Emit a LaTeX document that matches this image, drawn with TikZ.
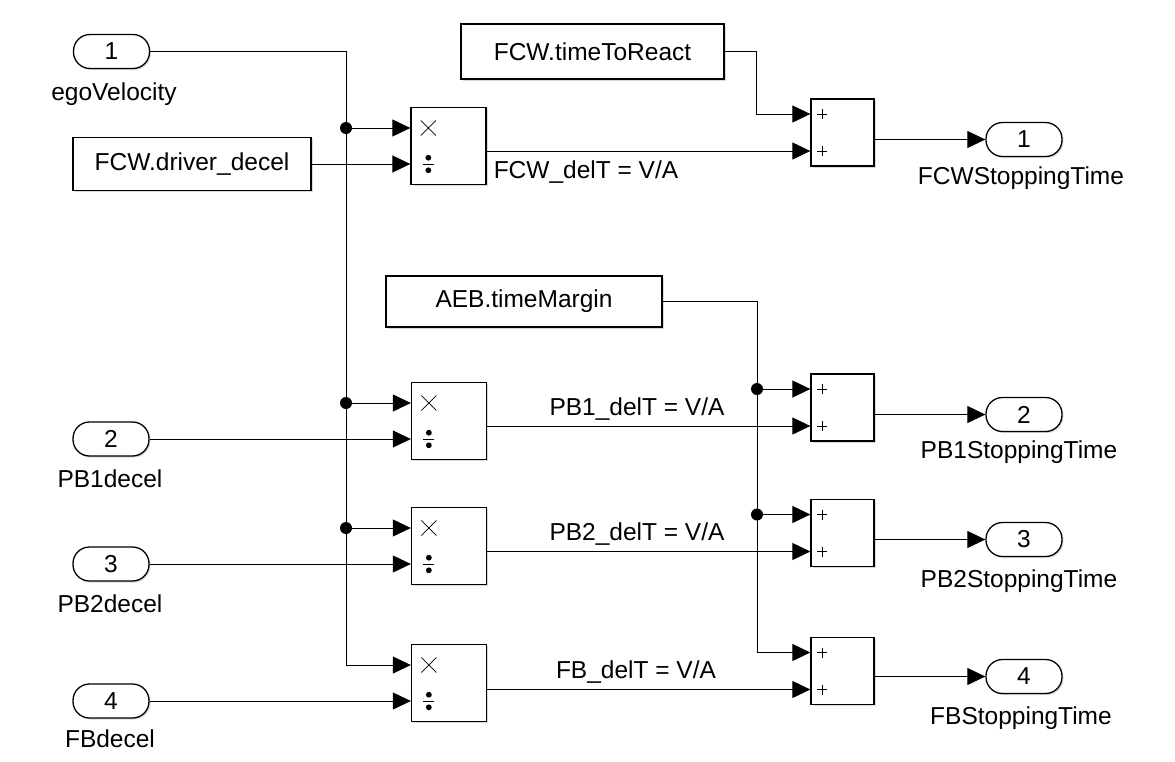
\documentclass[tikz,border=0pt]{standalone}
\usepackage{fontspec}
\setmainfont{Liberation Sans}
\usetikzlibrary{arrows.meta,shadows}

% small signs inside the blocks
\newcommand{\mulmark}[1]{\draw[symline] ([shift={(10.5,-7.5)}]#1) -- ([shift={(25.5,7.5)}]#1)
  ([shift={(10.5,7.5)}]#1) -- ([shift={(25.5,-7.5)}]#1);}
\newcommand{\divmark}[1]{\draw[symline] ([shift={(12.5,0)}]#1) -- ([shift={(23.5,0)}]#1);
  \fill ([shift={(18,-6.3)}]#1) circle (2.9pt);
  \fill ([shift={(18,6.3)}]#1) circle (2.9pt);}
\newcommand{\plusmark}[1]{\draw[symline] ([shift={(7,0)}]#1) -- ([shift={(17,0)}]#1)
  ([shift={(12,-5)}]#1) -- ([shift={(12,5)}]#1);}

\begin{document}
\begin{tikzpicture}[x=1pt,y=-1pt,
  every node/.style={font=\fontsize{24.5}{28}\selectfont},
  blk/.style={draw,line width=1.3pt,fill=white,
    drop shadow={shadow xshift=1.5pt,shadow yshift=-1.5pt,opacity=0.3}},
  port/.style={blk,rounded corners=16.5pt,minimum width=76pt,minimum height=34pt,inner sep=0pt},
  const/.style={blk,minimum height=53pt},
  prodbox/.style={blk,minimum width=75pt,minimum height=77pt},
  sumbox/.style={blk,minimum width=63pt,minimum height=67pt},
  lbl/.style={anchor=base},
  sig/.style={line width=1pt,-{Triangle[length=18pt,width=17pt]}},
  symline/.style={line width=0.8pt}]
\useasboundingbox (0,0) rectangle (1175,761);

% inports
\node[port] (in1) at (111.5,51.5) {1};
\node[port] (in2) at (111,439) {2};
\node[port] (in3) at (111,564) {3};
\node[port] (in4) at (111,701) {4};
\node[lbl] (inlbl1) at (114,100) {egoVelocity};
\node[lbl] (inlbl2) at (110,487) {PB1decel};
\node[lbl] (inlbl3) at (110,612) {PB2decel};
\node[lbl] (inlbl4) at (110,747) {FBdecel};

% constants
\node[const,minimum width=238pt] (drvDecel) at (192,164) {FCW.driver\_decel};
\node[const,minimum width=263pt,minimum height=55pt] (reactTime) at (592.5,51.5) {FCW.timeToReact};
\node[const,minimum width=276pt,minimum height=51pt] (timeMargin) at (524,301.5) {AEB.timeMargin};

% divide blocks
\node[prodbox] (divFCW) at (448.5,146) {};
\node[prodbox] (divPB1) at (449,421) {};
\node[prodbox] (divPB2) at (449,546) {};
\node[prodbox] (divFB) at (449,683) {};

% sum blocks
\node[sumbox] (sumFCW) at (842.5,132.5) {};
\node[sumbox] (sumPB1) at (842.5,407.5) {};
\node[sumbox] (sumPB2) at (842.5,533) {};
\node[sumbox] (sumFB) at (842.5,671) {};

% outports
\node[port] (out1) at (1024,139.5) {1};
\node[port] (out2) at (1024,414.5) {2};
\node[port] (out3) at (1024,539.5) {3};
\node[port] (out4) at (1024,676.5) {4};
\node[lbl] (outlbl1) at (1021,184) {FCWStoppingTime};
\node[lbl] (outlbl2) at (1019,458) {PB1StoppingTime};
\node[lbl] (outlbl3) at (1019,587) {PB2StoppingTime};
\node[lbl] (outlbl4) at (1021,724) {FBStoppingTime};

% ports of the blocks
\coordinate (divFCW-a) at ([yshift=18pt]divFCW.west);
\coordinate (divFCW-b) at ([yshift=-18pt]divFCW.west);
\coordinate (divPB1-a) at ([yshift=18pt]divPB1.west);
\coordinate (divPB1-b) at ([yshift=-18pt]divPB1.west);
\coordinate (divPB2-a) at ([yshift=18pt]divPB2.west);
\coordinate (divPB2-b) at ([yshift=-18pt]divPB2.west);
\coordinate (divFB-a) at ([yshift=18pt]divFB.west);
\coordinate (divFB-b) at ([yshift=-18pt]divFB.west);
\coordinate (sumFCW-a) at ([yshift=18.5pt]sumFCW.west);
\coordinate (sumFCW-b) at ([yshift=-18.5pt]sumFCW.west);
\coordinate (sumPB1-a) at ([yshift=18.5pt]sumPB1.west);
\coordinate (sumPB1-b) at ([yshift=-18.5pt]sumPB1.west);
\coordinate (sumPB2-a) at ([yshift=18.5pt]sumPB2.west);
\coordinate (sumPB2-b) at ([yshift=-18.5pt]sumPB2.west);
\coordinate (sumFB-a) at ([yshift=18.5pt]sumFB.west);
\coordinate (sumFB-b) at ([yshift=-18.5pt]sumFB.west);

\mulmark{divFCW-a} \divmark{divFCW-b}
\mulmark{divPB1-a} \divmark{divPB1-b}
\mulmark{divPB2-a} \divmark{divPB2-b}
\mulmark{divFB-a} \divmark{divFB-b}
\plusmark{sumFCW-a} \plusmark{sumFCW-b}
\plusmark{sumPB1-a} \plusmark{sumPB1-b}
\plusmark{sumPB2-a} \plusmark{sumPB2-b}
\plusmark{sumFB-a} \plusmark{sumFB-b}

% velocity bus
\coordinate (vbend) at (346,665);
\coordinate (jFCW) at (346,128);
\coordinate (jPB1) at (346,403);
\coordinate (jPB2) at (346,528);
\draw[sig] (in1) -| (vbend) -- (divFB-a);
\draw[sig] (jFCW) -- (divFCW-a);
\draw[sig] (jPB1) -- (divPB1-a);
\draw[sig] (jPB2) -- (divPB2-a);
\fill (jFCW) circle (6pt);
\fill (jPB1) circle (6pt);
\fill (jPB2) circle (6pt);

% decelerations
\draw[sig] (drvDecel) -- (divFCW-b);
\draw[sig] (in2) -- (divPB1-b);
\draw[sig] (in3) -- (divPB2-b);
\draw[sig] (in4) -- (divFB-b);

% reaction time and margin
\coordinate (rbend) at (756,114);
\draw[sig] (reactTime) -| (rbend) -- (sumFCW-a);
\coordinate (mbend) at (757,652.5);
\coordinate (jM1) at (757,389);
\coordinate (jM2) at (757,514.5);
\draw[sig] (timeMargin) -| (mbend) -- (sumFB-a);
\draw[sig] (jM1) -- (sumPB1-a);
\draw[sig] (jM2) -- (sumPB2-a);
\fill (jM1) circle (6pt);
\fill (jM2) circle (6pt);

% delT signals
\draw[sig] (divFCW.east |- sumFCW-b) -- (sumFCW-b);
\draw[sig] (divPB1.east |- sumPB1-b) -- (sumPB1-b);
\draw[sig] (divPB2.east |- sumPB2-b) -- (sumPB2-b);
\draw[sig] (divFB.east |- sumFB-b) -- (sumFB-b);
\node[lbl] (dtFCW) at (586,178) {FCW\_delT = V/A};
\node[lbl] (dtPB1) at (637,415) {PB1\_delT = V/A};
\node[lbl] (dtPB2) at (637,540) {PB2\_delT = V/A};
\node[lbl] (dtFB) at (636,678) {FB\_delT = V/A};

% stopping times
\draw[sig] (sumFCW.east |- out1) -- (out1);
\draw[sig] (sumPB1.east |- out2) -- (out2);
\draw[sig] (sumPB2.east |- out3) -- (out3);
\draw[sig] (sumFB.east |- out4) -- (out4);
\end{tikzpicture}
\end{document}
